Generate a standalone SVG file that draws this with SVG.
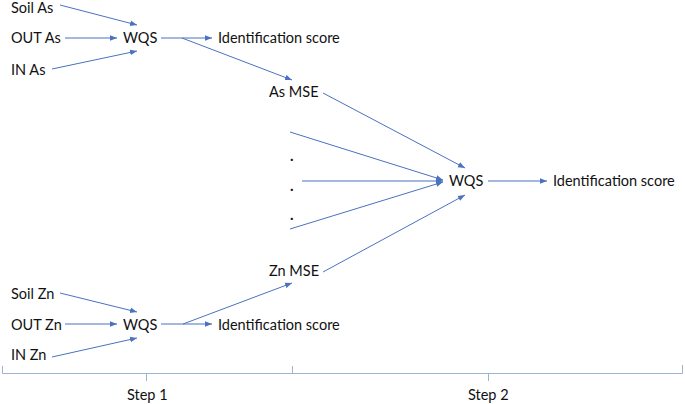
<svg xmlns="http://www.w3.org/2000/svg" width="685" height="404" viewBox="0 0 685 404">
<style>
text{font-family:Lato,"Liberation Sans",Arial,sans-serif;font-size:14.5px;fill:#111}
.d{font-weight:bold;font-size:15px}
.c{stroke:#4a72c0;stroke-width:1;fill:none;marker-end:url(#ah)}
.b{stroke:#9fb3d3;stroke-width:1;fill:none}
</style>
<defs>
<marker id="ah" viewBox="0 0 10 10" refX="10" refY="5" markerWidth="7" markerHeight="7" markerUnits="userSpaceOnUse" orient="auto">
<path d="M0,1 L10,5 L0,9 z" fill="#4a72c0"/>
</marker>
</defs>
<rect width="685" height="404" fill="#fff"/>
<g id="soilAs"><text x="11" y="13">Soil As</text></g>
<g id="outAs"><text x="11" y="43">OUT As</text></g>
<g id="inAs"><text x="11" y="75">IN As</text></g>
<g id="wqs1"><text x="123" y="43">WQS</text></g>
<g id="id1"><text x="218" y="43">Identification score</text></g>
<g id="asMSE"><text x="269" y="97">As MSE</text></g>
<g id="dots"><text class="d" x="290" y="161">.</text><text class="d" x="290" y="191">.</text><text class="d" x="290" y="220">.</text></g>
<g id="wqs3"><text x="449" y="186">WQS</text></g>
<g id="id3"><text x="553" y="186">Identification score</text></g>
<g id="znMSE"><text x="269" y="276">Zn MSE</text></g>
<g id="soilZn"><text x="11" y="299">Soil Zn</text></g>
<g id="outZn"><text x="11" y="330">OUT Zn</text></g>
<g id="inZn"><text x="11" y="360">IN Zn</text></g>
<g id="wqs2"><text x="123" y="330">WQS</text></g>
<g id="id2"><text x="218" y="330">Identification score</text></g>
<g id="step1"><text x="127" y="400">Step 1</text></g>
<g id="step2"><text x="468" y="400">Step 2</text></g>
<g id="connectors">
<line class="c" x1="60" y1="5" x2="137" y2="25"/>
<line class="c" x1="65" y1="38" x2="117" y2="38"/>
<line class="c" x1="52" y1="69" x2="137" y2="51"/>
<line class="c" x1="161" y1="38" x2="212" y2="38"/>
<line class="c" x1="182" y1="38" x2="292" y2="80"/>
<line class="c" x1="323" y1="93" x2="465" y2="168"/>
<line class="c" x1="290" y1="132" x2="443" y2="180"/>
<line class="c" x1="302" y1="181" x2="443" y2="181"/>
<line class="c" x1="290" y1="229" x2="443" y2="182"/>
<line class="c" x1="323" y1="272" x2="465" y2="195"/>
<line class="c" x1="488" y1="181" x2="547" y2="181"/>
<line class="c" x1="60" y1="293" x2="137" y2="312"/>
<line class="c" x1="65" y1="324" x2="117" y2="324"/>
<line class="c" x1="52" y1="357" x2="137" y2="338"/>
<line class="c" x1="161" y1="324" x2="212" y2="324"/>
<line class="c" x1="183" y1="324" x2="292" y2="283"/>
</g>
<g id="brackets">
<path class="b" d="M2.5,366 V373.5 H682.5 V365"/>
<path class="b" d="M292.5,366 V373.5"/>
<path class="b" d="M146.5,373.5 V381"/>
<path class="b" d="M488.5,373.5 V381"/>
</g>
</svg>
